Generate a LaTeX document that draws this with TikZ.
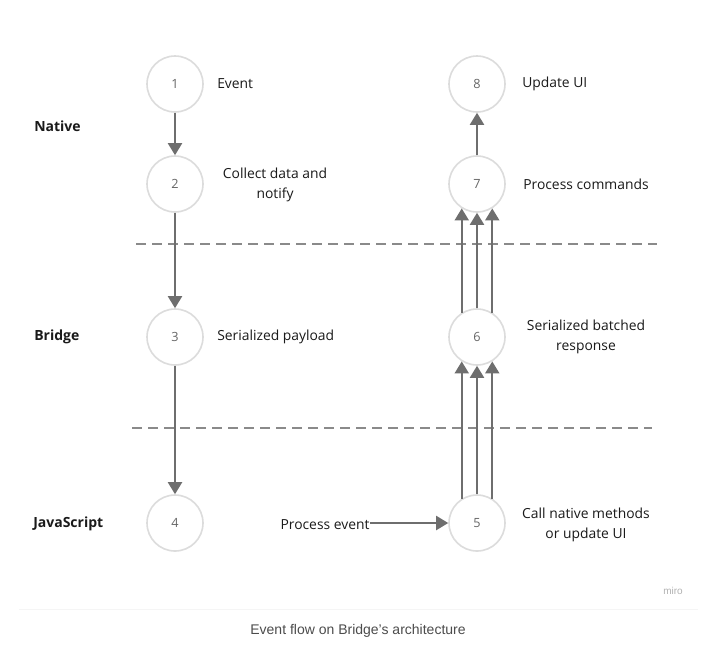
\documentclass[tikz,border=0pt]{standalone}
\usepackage{fontspec}
\setmainfont{Open Sans}
\newfontfamily\capfont{Liberation Sans}
\usetikzlibrary{arrows.meta}
\definecolor{arr}{HTML}{6E6E6E}
\definecolor{ring}{HTML}{DCDCDC}
\definecolor{dash}{HTML}{8A8A8A}
\definecolor{txt}{HTML}{1A1A1A}
\definecolor{num}{HTML}{666666}
\begin{document}
\begin{tikzpicture}[x=0.75pt,y=-0.75pt,
  stepnode/.style={circle,draw=ring,line width=1.2pt,minimum size=42pt,inner sep=0pt,font=\fontsize{9.5}{11}\selectfont,text=num,fill=white},
  lbl/.style={font=\fontsize{10.4}{15}\selectfont,text=txt,inner sep=0pt},
  lane/.style={font=\bfseries\fontsize{10.5}{12}\selectfont,text=txt,inner sep=0pt,anchor=west},
  flow/.style={draw=arr,line width=1.5pt,-{Triangle[width=10.5pt,length=9pt]}},
  sep/.style={draw=dash,line width=1.2pt,dash pattern=on 7.5pt off 4.5pt}]
\useasboundingbox (0,0) rectangle (712,668);
\fill[white] (0,0) rectangle (712,668);
% separators
\coordinate (s1a) at (136,244); \coordinate (s1b) at (657,244);
\coordinate (s2a) at (132,428); \coordinate (s2b) at (652,428);
\draw[sep] (s1a) -- (s1b);
\draw[sep] (s2a) -- (s2b);
% lanes
\node[lane] (native) at (34,126) {Native};
\node[lane] (bridge) at (34,337) {Bridge};
\node[lane] (js) at (33,524) {JavaScript};
% circles
\node[stepnode] (c1) at (175,84) {1};
\node[stepnode] (c2) at (175,184) {2};
\node[stepnode] (c3) at (175,337) {3};
\node[stepnode] (c4) at (175,523) {4};
\node[stepnode] (c5) at (477,523) {5};
\node[stepnode] (c6) at (477,337) {6};
\node[stepnode] (c7) at (477,184) {7};
\node[stepnode] (c8) at (477,84) {8};
% labels
\node[lbl,anchor=west] (l1) at (217,84) {Event};
\node[lbl,align=center] (l2) at (275,185) {Collect data and\\notify};
\node[lbl,anchor=west] (l3) at (217,337) {Serialized payload};
\node[lbl] (l4) at (325,525) {Process event};
\node[lbl,align=center] (l5) at (586,525) {Call native methods\\or update UI};
\node[lbl,align=center] (l6) at (586,337) {Serialized batched\\response};
\node[lbl,anchor=west] (l7) at (523,184) {Process commands};
\node[lbl,anchor=west] (l8) at (522,84) {Update UI};
% arrows
\draw[flow] (c1) -- (c2);
\draw[flow] (c2) -- (c3);
\draw[flow] (c3) -- (c4);
\draw[flow] (l4.east |- c5.west) -- (c5.west);
\draw[flow] (c5.122) -- (c6.238);
\draw[flow] (c5.north) -- (c6.south);
\draw[flow] (c5.58) -- (c6.302);
\draw[flow] (c6.122) -- (c7.238);
\draw[flow] (c6.north) -- (c7.south);
\draw[flow] (c6.58) -- (c7.302);
\draw[flow] (c7) -- (c8);
% footer
\node[font=\capfont\fontsize{7.5}{9}\selectfont,text=black!30,inner sep=0pt] (miro) at (673,591) {miro};
\coordinate (fa) at (19,609); \coordinate (fb) at (698,609);
\draw[black!4,line width=0.75pt] (fa) -- (fb);
\node[font=\capfont\fontsize{10.5}{12}\selectfont,text=black!70,inner sep=0pt] (cap) at (358,631) {Event flow on Bridge’s architecture};
\end{tikzpicture}
\end{document}
